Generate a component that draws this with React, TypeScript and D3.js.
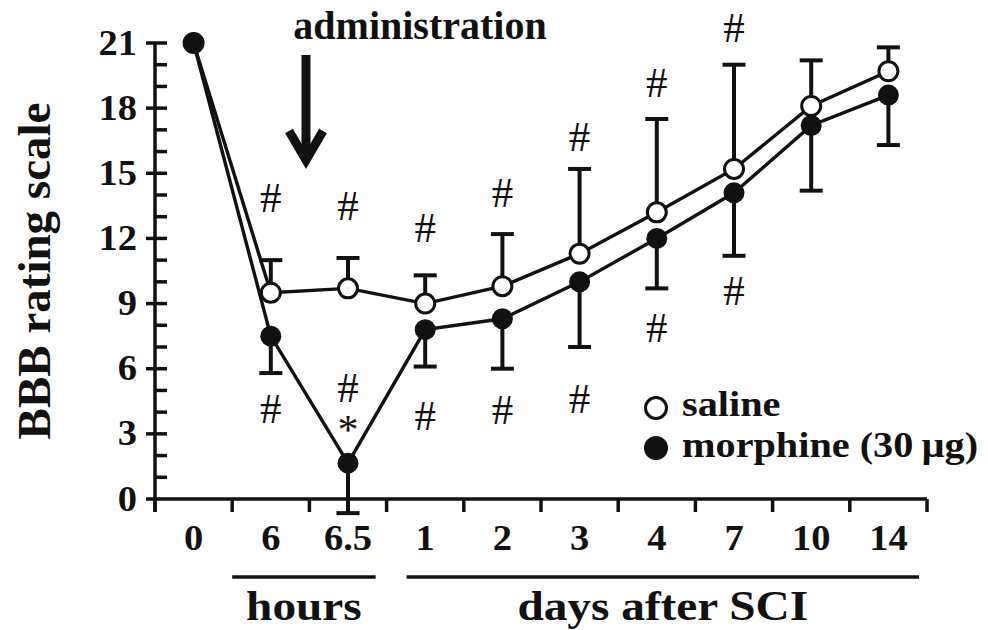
import React from 'react'
import * as d3 from 'd3'

// time points (first three are hours, rest days after SCI)
const timeLabels = ['0', '6', '6.5', '1', '2', '3', '4', '7', '10', '14']
const salineMean = [21, 9.5, 9.7, 9.0, 9.8, 11.3, 13.2, 15.2, 18.1, 19.7]
const salineErr = [0, 1.5, 1.4, 1.3, 2.4, 3.9, 4.3, 4.8, 2.1, 1.1]
const morphineMean = [21, 7.5, 1.65, 7.8, 8.3, 10.0, 12.0, 14.1, 17.2, 18.6]
const morphineErr = [0, 1.7, 2.3, 1.7, 2.3, 3.0, 2.3, 2.9, 3.0, 2.3]
const yTicks = [0, 3, 6, 9, 12, 15, 18, 21]
const seriesNames = ['saline', 'morphine (30\u2009\u00b5g)']
// significance marks, level on the BBB scale where they sit
const hashAbove = [null, 13.9, 13.5, 12.5, 14.1, 16.7, 19.2, 21.7, null, null]
const hashBelow = [null, 4.15, 5.15, 3.85, 4.1, 4.65, 7.9, 9.6, null, null]
const starBelow = [null, null, 3.45, null, null, null, null, null, null, null]
const groups = [
  { label: 'hours', from: '6', to: '6.5' },
  { label: 'days after SCI', from: '1', to: '14' },
]

const W = 988
const H = 630
const FONT = "'Liberation Serif', 'Times New Roman', serif"

function Label(props: any) {
  const { x, y, sx = 1, anchor = 'middle', size, weight = 'bold', children } = props
  return (
    <text transform={`translate(${x},${y}) scale(${sx},1)`} textAnchor={anchor}
      fontSize={size} fontWeight={weight} fontFamily={FONT} fill="#111">{children}</text>
  )
}

export default function App() {
  const x = d3.scaleBand().domain(timeLabels).range([155, 927])
  const y = d3.scaleLinear().domain([0, 21]).range([499, 43])
  const cx = (l: string) => (x(l) as number) + x.bandwidth() / 2

  const line = d3.line<number>()
    .x((d, i) => cx(timeLabels[i]))
    .y(d => y(d))

  const minor = d3.range(0, 22)
  const xEdges = timeLabels.map(l => x(l) as number).concat([x.range()[1]])
  const axisCol = '#111'

  return (
    <svg width={W} height={H} style={{ position: 'absolute', left: 0, top: 0, background: '#fff' }}>
      {/* y axis */}
      <line x1={155} x2={155} y1={y(21)} y2={512} stroke={axisCol} strokeWidth={3.5} />
      {minor.map(v => (
        <line key={'m' + v} x1={155} x2={v === 0 ? 155 : 167} y1={y(v)} y2={y(v)} stroke={axisCol} strokeWidth={3.5} />
      ))}
      {yTicks.map(v => (
        <g key={'t' + v}>
          <line x1={146} x2={155} y1={y(v)} y2={y(v)} stroke={axisCol} strokeWidth={3.5} />
          <Label x={137} y={y(v) + 11.5} anchor="end" size={35} sx={1.1}>{v}</Label>
        </g>
      ))}
      <g transform={`translate(50,${y(10.5)}) rotate(-90)`}>
        <text textAnchor="middle" fontSize={47} fontWeight="bold" fontFamily={FONT} fill="#111">BBB rating scale</text>
      </g>

      {/* x axis */}
      <line x1={155} x2={x.range()[1]} y1={499} y2={499} stroke={axisCol} strokeWidth={3.5} />
      {xEdges.map((e, i) => (
        <line key={'e' + i} x1={e} x2={e} y1={499} y2={512} stroke={axisCol} strokeWidth={3.5} />
      ))}
      {timeLabels.map(l => (
        <Label key={'xl' + l} x={cx(l)} y={550} size={35} sx={1.1}>{l}</Label>
      ))}
      {groups.map(g => {
        const a = (x(g.from) as number) + (g.from === '1' ? 20 : 0)
        const b = (x(g.to) as number) + x.bandwidth() - (g.to === '14' ? 8 : 11)
        return (
          <g key={g.label}>
            <line x1={a} x2={b} y1={577} y2={577} stroke={axisCol} strokeWidth={3.5} />
            <Label x={(a + b) / 2} y={620} size={43} sx={1.1}>{g.label}</Label>
          </g>
        )
      })}

      {/* administration arrow */}
      <Label x={420} y={39} size={40}>administration</Label>
      <line x1={306} x2={306} y1={55} y2={158} stroke="#111" strokeWidth={9} />
      <path d="M289,131 L306,160 L323,131" fill="none" stroke="#111" strokeWidth={9} strokeLinejoin="miter" />

      {/* error bars */}
      {salineMean.map((m, i) => salineErr[i] > 0 && (
        <g key={'se' + i} stroke="#111" strokeWidth={4}>
          <line x1={cx(timeLabels[i])} x2={cx(timeLabels[i])} y1={y(m)} y2={y(m + salineErr[i])} />
          <line x1={cx(timeLabels[i]) - 11.5} x2={cx(timeLabels[i]) + 11.5} y1={y(m + salineErr[i])} y2={y(m + salineErr[i])} />
        </g>
      ))}
      {morphineMean.map((m, i) => morphineErr[i] > 0 && (
        <g key={'me' + i} stroke="#111" strokeWidth={4}>
          <line x1={cx(timeLabels[i])} x2={cx(timeLabels[i])} y1={y(m)} y2={y(m - morphineErr[i])} />
          <line x1={cx(timeLabels[i]) - 11.5} x2={cx(timeLabels[i]) + 11.5} y1={y(m - morphineErr[i])} y2={y(m - morphineErr[i])} />
        </g>
      ))}

      {/* lines */}
      <path d={line(salineMean) as string} fill="none" stroke="#111" strokeWidth={3.4} />
      <path d={line(morphineMean) as string} fill="none" stroke="#111" strokeWidth={3.4} />

      {/* markers */}
      {salineMean.map((m, i) => (
        <circle key={'sc' + i} cx={cx(timeLabels[i])} cy={y(m)} r={9.5} fill="#fff" stroke="#111" strokeWidth={3} />
      ))}
      {morphineMean.map((m, i) => (
        <circle key={'mc' + i} cx={cx(timeLabels[i])} cy={y(m)} r={10.5} fill="#111" />
      ))}

      {/* significance marks */}
      {hashAbove.map((v, i) => v !== null && (
        <Label key={'ha' + i} x={cx(timeLabels[i])} y={y(v) + 14.5} size={43} weight="normal">#</Label>
      ))}
      {hashBelow.map((v, i) => v !== null && (
        <Label key={'hb' + i} x={cx(timeLabels[i])} y={y(v) + 14.5} size={43} weight="normal">#</Label>
      ))}
      {starBelow.map((v, i) => v !== null && (
        <Label key={'st' + i} x={cx(timeLabels[i])} y={y(v) + 20} size={42} weight="normal">*</Label>
      ))}

      {/* legend */}
      {seriesNames.map((s, i) => (
        <g key={s}>
          <circle cx={656} cy={408 + i * 40} r={i === 0 ? 10.5 : 12} fill={i === 0 ? '#fff' : '#111'}
            stroke="#111" strokeWidth={i === 0 ? 3 : 0} />
          <Label x={682} y={416 + i * 41} anchor="start" size={35} sx={1.15}>{s}</Label>
        </g>
      ))}
    </svg>
  )
}
